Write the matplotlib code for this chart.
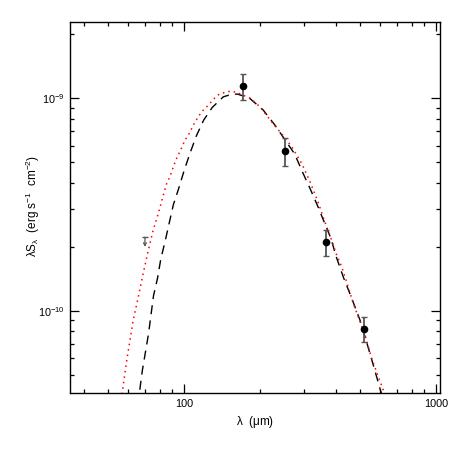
import matplotlib
matplotlib.use("Agg")
import matplotlib.pyplot as plt
from matplotlib.ticker import FixedLocator, FixedFormatter, NullFormatter

plt.rcParams['font.family'] = ['Liberation Sans', 'DejaVu Sans']
plt.rcParams['mathtext.default'] = 'regular'

# Photometric points (wavelength in micron, lambda*S_lambda)
obs_wave = [171, 252, 365, 519]
obs_flux = [1.14e-9, 5.65e-10, 2.11e-10, 8.2e-11]
obs_err = [0.16e-9, 0.85e-10, 0.30e-10, 1.1e-11]

# Upper limit
ul_wave = [70]
ul_flux = [2.22e-10]

# Model curve 1 (black dashed)
mod1_wave = [66.1, 66.9, 68.4, 70.3, 72.3, 73.9, 75.7, 78.5, 80.9, 84.2, 90.7, 95.3,
             100.3, 105.6, 111.9, 119.7, 129.5, 143.2, 154.6, 163.0, 174.6, 182.8,
             206.3, 229.7, 253.3, 275.0, 295.8, 317.1, 340.2, 362.7, 383.1, 401.0,
             428.8, 455.9, 499.3, 530.9, 563.8, 604.9, 622.0]
mod1_flux = [3.60e-11, 4.31e-11, 5.26e-11, 6.37e-11, 7.77e-11, 9.47e-11, 1.177e-10,
             1.42e-10, 1.75e-10, 2.13e-10, 3.15e-10, 3.77e-10, 4.60e-10, 5.51e-10,
             6.65e-10, 7.90e-10, 9.07e-10, 1.017e-9, 1.046e-9, 1.048e-9, 1.02e-9,
             0.998e-9, 8.81e-10, 7.48e-10, 6.31e-10, 5.47e-10, 4.48e-10, 3.74e-10,
             3.09e-10, 2.56e-10, 2.19e-10, 1.81e-10, 1.44e-10, 1.20e-10, 9.04e-11,
             7.10e-11, 5.55e-11, 4.14e-11, 3.64e-11]

# Model curve 2 (red dotted)
mod2_wave = [55.7, 56.9, 59.3, 62.9, 65.9, 68.9, 72.2, 75.5, 79.1, 82.8, 85.4, 88.0,
             90.7, 93.5, 97.0, 100.9, 105.0, 108.9, 112.9, 117.5, 123.1, 126.8, 131.9,
             138.1, 145.5, 153.2, 160.8, 182.8, 200.2, 222.8, 249.4, 267.6, 293.2,
             316.2, 338.1, 360.4, 383.1, 403.6, 422.6, 469.8, 522.7, 555.6, 590.2,
             617.9, 639.3]
mod2_flux = [3.60e-11, 4.13e-11, 5.86e-11, 9.04e-11, 1.164e-10, 1.50e-10, 1.93e-10,
             2.40e-10, 2.87e-10, 3.50e-10, 3.98e-10, 4.28e-10, 4.76e-10, 5.22e-10,
             5.71e-10, 6.36e-10, 6.84e-10, 7.48e-10, 8.05e-10, 8.65e-10, 9.13e-10,
             9.47e-10, 1.0e-9, 1.048e-9, 1.067e-9, 1.082e-9, 1.07e-9, 1.003e-9,
             9.13e-10, 7.76e-10, 6.60e-10, 5.92e-10, 4.94e-10, 4.05e-10, 3.32e-10,
             2.67e-10, 2.19e-10, 1.83e-10, 1.61e-10, 1.083e-10, 7.68e-11, 5.97e-11,
             4.89e-11, 4.23e-11, 3.72e-11]

x_major = [100, 1000]
x_major_labels = ['100', '1000']
x_minor = [40, 50, 60, 70, 80, 90, 200, 300, 400, 500, 600, 700, 800, 900]
y_major = [1e-10, 1e-9]
y_major_labels = ['$10^{-10}$', '$10^{-9}$']
y_minor = [5e-11, 6e-11, 7e-11, 8e-11, 9e-11, 2e-10, 3e-10, 4e-10, 5e-10, 6e-10,
           7e-10, 8e-10, 9e-10, 2e-9]

fig = plt.figure(figsize=(4.63, 4.63), dpi=100)
ax = fig.add_axes([0.1512, 0.1512, 0.7991, 0.8013])
ax.set_xscale('log')
ax.set_yscale('log')
ax.set_xlim(35.3, 1037)
ax.set_ylim(4.1e-11, 2.29e-9)

ax.plot(mod1_wave, mod1_flux, color='black', lw=1.0, dashes=(6.5, 4.5))
ax.plot(mod2_wave, mod2_flux, color='red', lw=1.1, dashes=(1.0, 2.6),
        dash_capstyle='butt')

ax.errorbar(obs_wave, obs_flux, yerr=obs_err, fmt='o', color='black', ms=4.5,
            ecolor='#555555', elinewidth=1.3, capsize=2.2, capthick=1.0, zorder=5)

for w, f in zip(ul_wave, ul_flux):
    ax.plot([w], [f], marker='_', color='#555555', ms=4, mew=1.0)
    ax.annotate('', xy=(w, f), xycoords='data', xytext=(0, -7),
                textcoords='offset points',
                arrowprops=dict(arrowstyle='<-', color='#555555', lw=0.9,
                                shrinkA=0, shrinkB=0, mutation_scale=5))

ax.xaxis.set_major_locator(FixedLocator(x_major))
ax.xaxis.set_major_formatter(FixedFormatter(x_major_labels))
ax.xaxis.set_minor_locator(FixedLocator(x_minor))
ax.xaxis.set_minor_formatter(NullFormatter())
ax.yaxis.set_major_locator(FixedLocator(y_major))
ax.yaxis.set_major_formatter(FixedFormatter(y_major_labels))
ax.yaxis.set_minor_locator(FixedLocator(y_minor))
ax.yaxis.set_minor_formatter(NullFormatter())

ax.tick_params(which='both', direction='in', top=True, right=True, labelsize=7.8,
               width=0.9, colors='black')
ax.tick_params(which='major', length=6.5, pad=4)
ax.tick_params(which='minor', length=3.2)
for s in ax.spines.values():
    s.set_linewidth(1.0)

ax.set_xlabel(r'$\lambda$  ($\mu$m)', fontsize=8.5, labelpad=4)
fig.text(33 / 463, 1 - 206 / 463,
         r'$\lambda S_\lambda$  (erg s$^{-1}$  cm$^{-2}$)',
         rotation=90, ha='center', va='center', fontsize=8.5)

fig.savefig('out.png', dpi=100)
